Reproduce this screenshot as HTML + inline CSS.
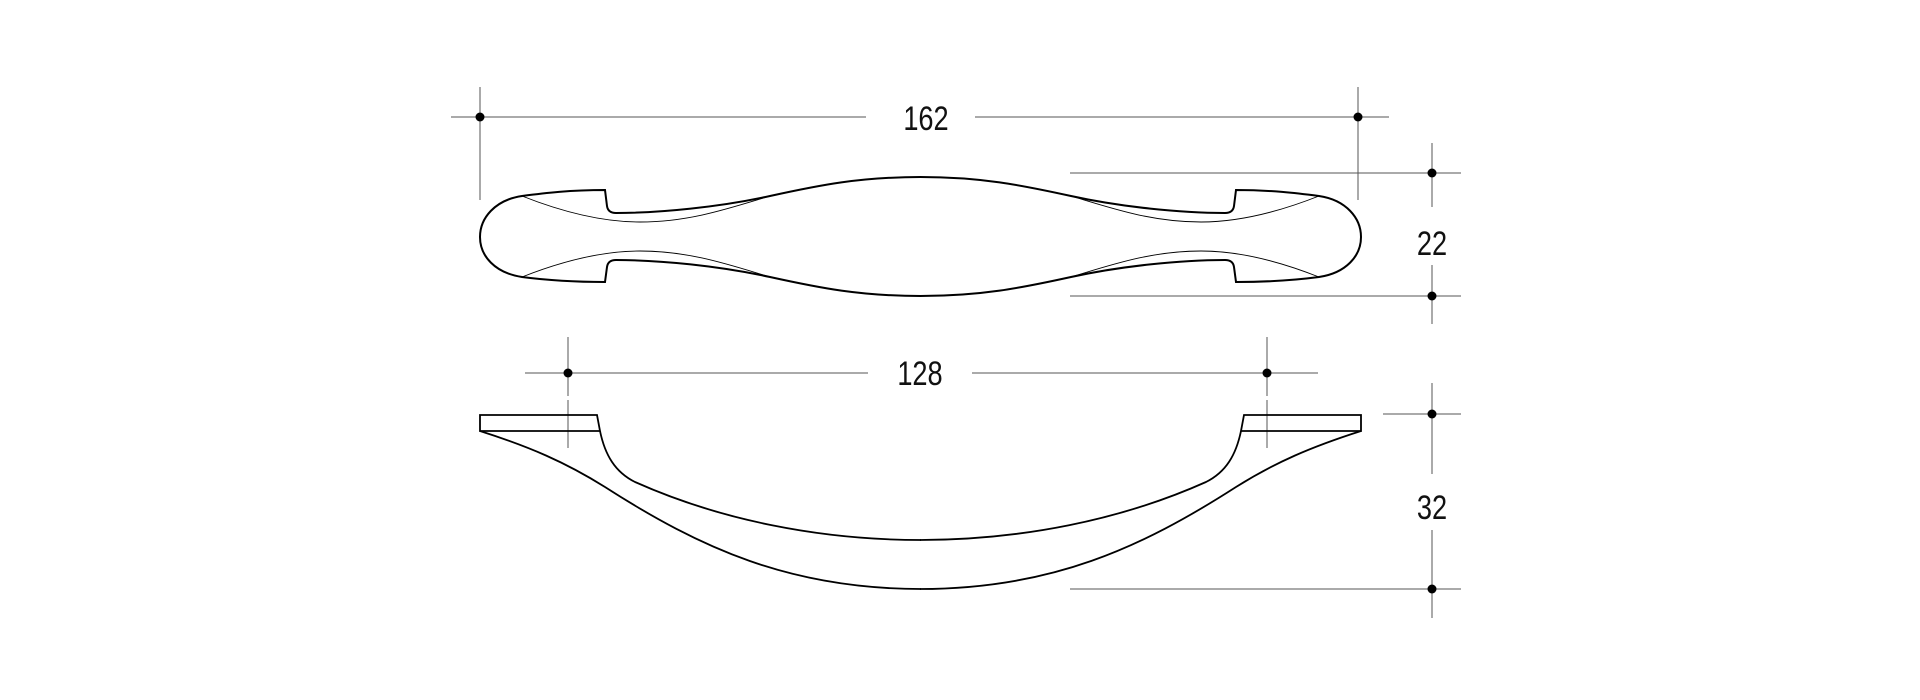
<!DOCTYPE html>
<html><head><meta charset="utf-8"><style>
html,body{margin:0;padding:0;background:#fff;}
svg{display:block;}
text{font-family:"Liberation Sans",sans-serif;font-size:34px;fill:#111;}
</style></head><body>
<svg width="1920" height="700" viewBox="0 0 1920 700" xmlns="http://www.w3.org/2000/svg">
<g stroke="#555" stroke-width="1" fill="none">
  <line x1="451" y1="117" x2="866" y2="117"/>
  <line x1="975" y1="117" x2="1389" y2="117"/>
  <line x1="480" y1="87" x2="480" y2="200"/>
  <line x1="1358" y1="87" x2="1358" y2="200"/>
  <line x1="1070" y1="173" x2="1461" y2="173"/>
  <line x1="1070" y1="296" x2="1461" y2="296"/>
  <line x1="1432" y1="143" x2="1432" y2="207"/>
  <line x1="1432" y1="265" x2="1432" y2="324"/>
  <line x1="525" y1="373" x2="868" y2="373"/>
  <line x1="972" y1="373" x2="1318" y2="373"/>
  <line x1="568" y1="337" x2="568" y2="396"/>
  <line x1="568" y1="400" x2="568" y2="448"/>
  <line x1="1267" y1="337" x2="1267" y2="396"/>
  <line x1="1267" y1="400" x2="1267" y2="448"/>
  <line x1="1383" y1="414" x2="1461" y2="414"/>
  <line x1="1070" y1="589" x2="1461" y2="589"/>
  <line x1="1432" y1="383" x2="1432" y2="474"/>
  <line x1="1432" y1="530" x2="1432" y2="618"/>
</g>
<g fill="#000">
  <circle cx="480" cy="117" r="4.5"/><circle cx="1358" cy="117" r="4.5"/>
  <circle cx="1432" cy="173" r="4.5"/><circle cx="1432" cy="296" r="4.5"/>
  <circle cx="568" cy="373" r="4.5"/><circle cx="1267" cy="373" r="4.5"/>
  <circle cx="1432" cy="414" r="4.5"/><circle cx="1432" cy="589" r="4.5"/>
</g>
<g text-anchor="middle">
  <text transform="translate(926,130) scale(0.8,1)">162</text>
  <text transform="translate(920,385) scale(0.8,1)">128</text>
  <text transform="translate(1432,255) scale(0.8,1)">22</text>
  <text transform="translate(1432,519) scale(0.8,1)">32</text>
</g>
<g id="half" fill="none" stroke="#000">
  <path stroke-width="2" d="M921,177 C860,177 820,185 770,196 C720,207 660,213 616,213 Q608,213 607,206 L605,190 C570,190 545,193 522,196 C495,200 480,218 480,237 C480,256 495,273 522,277 C545,280 570,282 605,282 L607,267 Q608,260 616,260 C660,260 720,266 770,277 C820,288 860,296 921,296"/>
  <path stroke-width="0.9" d="M522,196 C570,215 610,222 640,222 C690,222 730,208 770,196"/>
  <path stroke-width="0.9" d="M522,277 C570,258 610,251 640,251 C690,251 730,265 770,277"/>
  <path stroke-width="1.8" d="M480,415 L597,415 L600,431 L480,431 Z"/>
  <path stroke-width="1.8" d="M600,431 C605,455 615,472 635,482 C720,520 820,540 921,540"/>
  <path stroke-width="1.8" d="M480,431 C530,447 565,462 605,487 C700,548 790,589 921,589"/>
</g>
<use href="#half" transform="translate(1841,0) scale(-1,1)"/>
</svg>
</body></html>
